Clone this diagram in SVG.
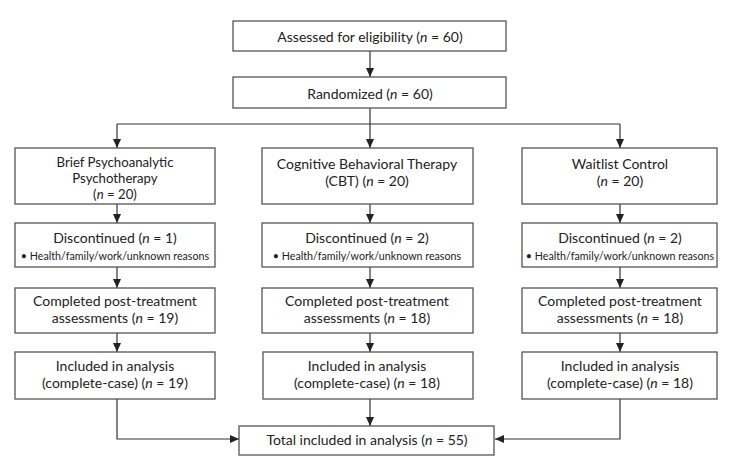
<svg xmlns="http://www.w3.org/2000/svg" width="743" height="462" viewBox="0 0 743 462">
<defs>
<marker id="ah" markerWidth="10" markerHeight="10" refX="9" refY="5" orient="auto" markerUnits="userSpaceOnUse">
<path d="M0,1 L9,5 L0,9 Z" fill="#222"/>
</marker>
<style>
.box{fill:#fff;stroke:#555;stroke-width:1.3}
.t{font-family:Lato,"Open Sans",sans-serif;font-size:14px;fill:#222;text-anchor:middle}
.m{font-size:13.2px}
.s{font-size:10.7px}
.c{fill:none;stroke:#333;stroke-width:1.2}
</style>
</defs>
<rect width="743" height="462" fill="#fff"/>
<g id="connectors">
<path class="c" d="M370,51 V77" marker-end="url(#ah)"/>
<path class="c" d="M370,108 V148" marker-end="url(#ah)"/>
<path class="c" d="M117,124 H620"/>
<path class="c" d="M117,124 V148" marker-end="url(#ah)"/>
<path class="c" d="M620,124 V148" marker-end="url(#ah)"/>
<path class="c" d="M117,204 V223" marker-end="url(#ah)"/>
<path class="c" d="M370,204 V223" marker-end="url(#ah)"/>
<path class="c" d="M620,204 V223" marker-end="url(#ah)"/>
<path class="c" d="M117,267 V288" marker-end="url(#ah)"/>
<path class="c" d="M370,267 V288" marker-end="url(#ah)"/>
<path class="c" d="M620,267 V288" marker-end="url(#ah)"/>
<path class="c" d="M117,333 V352" marker-end="url(#ah)"/>
<path class="c" d="M370,333 V352" marker-end="url(#ah)"/>
<path class="c" d="M620,333 V352" marker-end="url(#ah)"/>
<path class="c" d="M370,399 V426" marker-end="url(#ah)"/>
<path class="c" d="M117,399 V439 H239" marker-end="url(#ah)"/>
<path class="c" d="M620,399 V439 H495" marker-end="url(#ah)"/>
</g>
<g id="assessed">
<rect class="box" x="233" y="21" width="273" height="30"/>
<text class="t" x="370" y="42">Assessed for eligibility (<tspan font-style="italic">n</tspan> = 60)</text>
</g>
<g id="randomized">
<rect class="box" x="233" y="77" width="273" height="31"/>
<text class="t" x="370" y="99">Randomized (<tspan font-style="italic">n</tspan> = 60)</text>
</g>
<g id="bpp">
<rect class="box" x="15" y="148" width="200" height="56"/>
<text class="t m" x="115" y="167">Brief Psychoanalytic</text>
<text class="t m" x="115" y="183">Psychotherapy</text>
<text class="t m" x="115" y="199">(<tspan font-style="italic">n</tspan> = 20)</text>
</g>
<g id="cbt">
<rect class="box" x="262" y="148" width="211" height="56"/>
<text class="t" x="367" y="169">Cognitive Behavioral Therapy</text>
<text class="t" x="367" y="186">(CBT) (<tspan font-style="italic">n</tspan> = 20)</text>
</g>
<g id="wl">
<rect class="box" x="522" y="148" width="195" height="56"/>
<text class="t" x="620" y="169">Waitlist Control</text>
<text class="t" x="620" y="186">(<tspan font-style="italic">n</tspan> = 20)</text>
</g>
<g id="disc1">
<rect class="box" x="15" y="223" width="200" height="44"/>
<text class="t" x="115" y="243">Discontinued (<tspan font-style="italic">n</tspan> = 1)</text>
<text class="t s" x="115" y="260">• Health/family/work/unknown reasons</text>
</g>
<g id="disc2">
<rect class="box" x="262" y="223" width="211" height="44"/>
<text class="t" x="367" y="243">Discontinued (<tspan font-style="italic">n</tspan> = 2)</text>
<text class="t s" x="367" y="260">• Health/family/work/unknown reasons</text>
</g>
<g id="disc3">
<rect class="box" x="522" y="223" width="195" height="44"/>
<text class="t" x="620" y="243">Discontinued (<tspan font-style="italic">n</tspan> = 2)</text>
<text class="t s" x="620" y="260">• Health/family/work/unknown reasons</text>
</g>
<g id="post1">
<rect class="box" x="15" y="288" width="200" height="45"/>
<text class="t" x="115" y="306">Completed post-treatment</text>
<text class="t" x="115" y="323">assessments (<tspan font-style="italic">n</tspan> = 19)</text>
</g>
<g id="post2">
<rect class="box" x="262" y="288" width="211" height="45"/>
<text class="t" x="367" y="306">Completed post-treatment</text>
<text class="t" x="367" y="323">assessments (<tspan font-style="italic">n</tspan> = 18)</text>
</g>
<g id="post3">
<rect class="box" x="522" y="288" width="195" height="45"/>
<text class="t" x="620" y="306">Completed post-treatment</text>
<text class="t" x="620" y="323">assessments (<tspan font-style="italic">n</tspan> = 18)</text>
</g>
<g id="incl1">
<rect class="box" x="15" y="352" width="200" height="47"/>
<text class="t" x="115" y="371">Included in analysis</text>
<text class="t" x="115" y="388">(complete-case) (<tspan font-style="italic">n</tspan> = 19)</text>
</g>
<g id="incl2">
<rect class="box" x="263" y="352" width="210" height="47"/>
<text class="t" x="367" y="371">Included in analysis</text>
<text class="t" x="367" y="388">(complete-case) (<tspan font-style="italic">n</tspan> = 18)</text>
</g>
<g id="incl3">
<rect class="box" x="522" y="352" width="195" height="47"/>
<text class="t" x="620" y="371">Included in analysis</text>
<text class="t" x="620" y="388">(complete-case) (<tspan font-style="italic">n</tspan> = 18)</text>
</g>
<g id="total">
<rect class="box" x="239" y="426" width="255" height="29"/>
<text class="t" x="367" y="445">Total included in analysis (<tspan font-style="italic">n</tspan> = 55)</text>
</g>
</svg>
